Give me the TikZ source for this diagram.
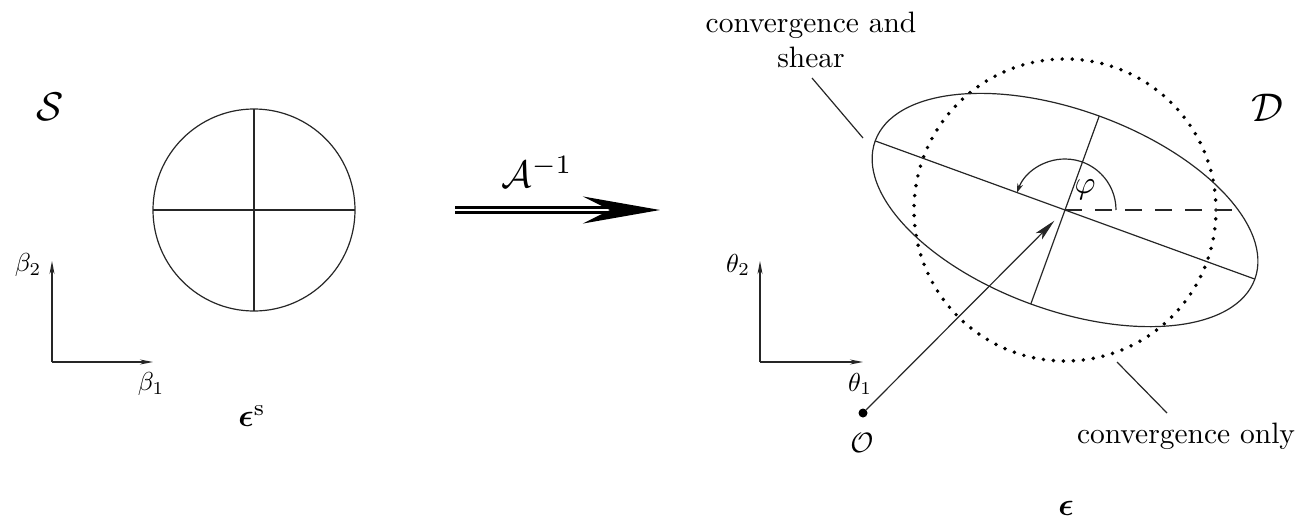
\documentclass[tikz,border=0pt]{standalone}
\usepackage{graphicx}
\usepackage{bm}
\usetikzlibrary{arrows.meta,calc}
\newcommand{\sz}[2]{\scalebox{#1}{#2}}
\begin{document}
\begin{tikzpicture}[x=1pt,y=1pt,
  thinline/.style={line width=1.2pt, draw=black!85},
  axisarrow/.style={line width=1.1pt, draw=black!85, -{Stealth[length=13pt,width=5pt,inset=4pt]}},
  lbl/.style={inner sep=0pt},
  dotring/.style={line width=3.9pt, dash pattern=on 0pt off 10pt, line cap=round, draw=black},
  dashline/.style={line width=1.2pt, draw=black!85, dash pattern=on 17pt off 13pt}
]
\useasboundingbox (0,0) rectangle (1297,-525);

% ---------- left panel ----------
\node[lbl] (S) at (50,-107) {\sz{4.0}{$\mathcal{S}$}};
\coordinate (Lc) at (254,-210);
\draw[thinline] (Lc) circle[radius=101];
\coordinate (LcW) at (153,-210);
\coordinate (LcE) at (355,-210);
\coordinate (LcN) at (254,-109);
\coordinate (LcS) at (254,-311);
\draw[thinline] (LcW) -- (LcE);
\draw[thinline] (LcN) -- (LcS);

\coordinate (LO) at (52,-362);
\coordinate (LX) at (153,-362);
\coordinate (LY) at (52,-261);
\draw[axisarrow] (LO) -- (LX);
\draw[axisarrow] (LO) -- (LY);
\node[lbl] (b2) at (28,-265) {\sz{2.6}{$\beta_2$}};
\node[lbl] (b1) at (151,-384) {\sz{2.6}{$\beta_1$}};
\node[lbl] (eps) at (252,-416) {\sz{3.2}{$\bm{\epsilon}^{\mathrm{s}}$}};

% ---------- mapping arrow ----------
\coordinate (A1) at (455,-210);
\coordinate (A2) at (660,-210);
\draw[line width=3pt, double distance=1.8pt, draw=black,
      -{Stealth[length=77pt,width=27pt,inset=27pt]}] (A1) -- (A2);
\node[lbl] (Ainv) at (537,-172) {\sz{3.8}{$\mathcal{A}^{-1}$}};

% ---------- right panel ----------
\node[lbl] (D) at (1267,-108) {\sz{4.0}{$\mathcal{D}$}};
\coordinate (C) at (1065,-210);
\draw[dotring] (C) circle[radius=151];
\draw[thinline, rotate around={-20:(C)}] (C) ellipse[x radius=202, y radius=100];
\coordinate (M1) at ($(C)+(160:202)$);
\coordinate (M2) at ($(C)+(-20:202)$);
\coordinate (m1) at ($(C)+(70:100)$);
\coordinate (m2) at ($(C)+(-110:100)$);
\coordinate (E) at ($(C)+(0:173)$);
\draw[thinline] (M1) -- (M2);
\draw[thinline] (m1) -- (m2);
\draw[dashline] (C) -- (E);
\draw[thinline, -{Stealth[length=9pt,width=6pt]}] ($(C)+(0:51)$) arc[start angle=0, end angle=160, radius=51];
\node[lbl] (phi) at (1085,-190) {\sz{3.2}{$\varphi$}};

\node[circle, fill=black, inner sep=0pt, minimum size=9pt] (Odot) at (863,-413) {};
\node[lbl] (Olbl) at (862,-443) {\sz{2.8}{$\mathcal{O}$}};
\coordinate (Ctip) at ($(C)!15pt!(Odot)$);
\draw[thinline, -{Stealth[length=22pt,width=9pt,inset=5pt]}] (Odot) -- (Ctip);

\coordinate (RO) at (760,-362);
\coordinate (RX) at (863,-362);
\coordinate (RY) at (760,-261);
\draw[axisarrow] (RO) -- (RX);
\draw[axisarrow] (RO) -- (RY);
\node[lbl] (t2) at (738,-265) {\sz{2.6}{$\theta_2$}};
\node[lbl] (t1) at (860,-384) {\sz{2.6}{$\theta_1$}};

\node[lbl] (cs) at (811,-43) {\sz{2.95}{\begin{tabular}{@{}c@{}}convergence and\\shear\end{tabular}}};
\coordinate (L1a) at (812,-78);
\coordinate (L1b) at (863,-138);
\draw[thinline] (L1a) -- (L1b);

\node[lbl] (co) at (1186,-436) {\sz{2.95}{convergence only}};
\coordinate (L2a) at (1117,-362);
\coordinate (L2b) at (1167,-413);
\draw[thinline] (L2a) -- (L2b);

\node[lbl] (epsD) at (1066,-508) {\sz{3.2}{$\bm{\epsilon}$}};
\end{tikzpicture}
\end{document}
